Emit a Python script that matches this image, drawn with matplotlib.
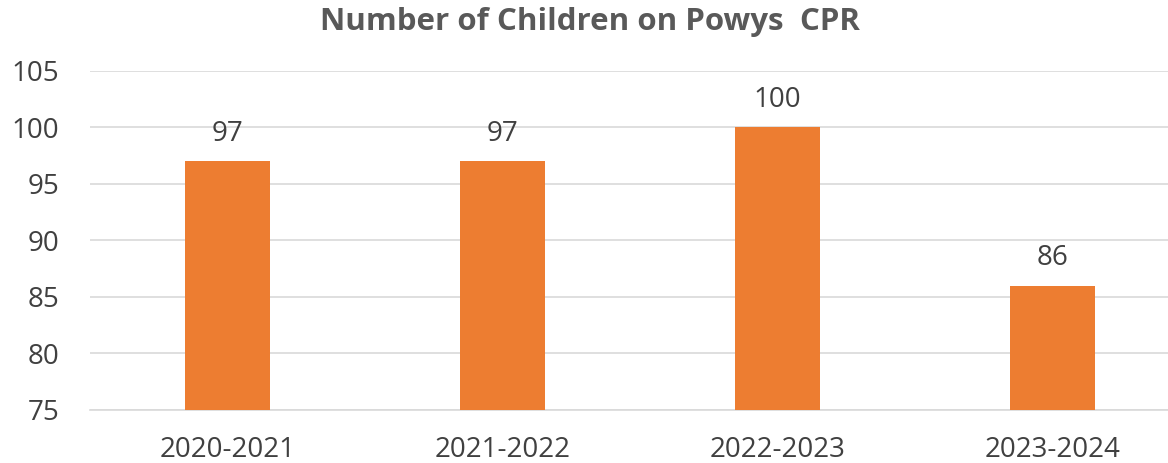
import matplotlib.pyplot as plt
import numpy as np

# data
years = ['2020-2021', '2021-2022', '2022-2023', '2023-2024']
children = [97, 97, 100, 86]

plt.rcParams['font.family'] = ['Open Sans', 'DejaVu Sans']

fig = plt.figure(figsize=(11.68, 4.63), dpi=100)
ax = fig.add_axes([0.077, 0.1145, 0.923, 0.7322])

x = np.arange(len(years))
bars = ax.bar(x, children, width=0.31, color='#ED7D31', zorder=3)
for xi, v in zip(x, children):
    ax.text(xi, v + 1.2, str(v), ha='center', va='bottom', fontsize=20, color='#404040')

ax.set_ylim(75, 105)
ax.set_yticks(np.arange(75, 106, 5))
ax.set_xlim(-0.5, -0.5 + 1078 / 275)
ax.set_xticks(x)
ax.set_xticklabels(years)
ax.yaxis.grid(True, color='#D9D9D9', linewidth=1.2, zorder=0)
for s in ['top', 'right', 'left']:
    ax.spines[s].set_visible(False)
ax.spines['bottom'].set_color('#D9D9D9')
ax.spines['bottom'].set_linewidth(1.2)
ax.tick_params(axis='both', length=0, labelsize=20, colors='#404040')
ax.tick_params(axis='x', pad=19)
ax.tick_params(axis='y', pad=22)

fig.text(0.505, 0.952, 'Number of Children on Powys  CPR', ha='center', va='center',
         fontsize=22.5, fontweight='bold', color='#595959')

fig.savefig('out.png', dpi=100)
